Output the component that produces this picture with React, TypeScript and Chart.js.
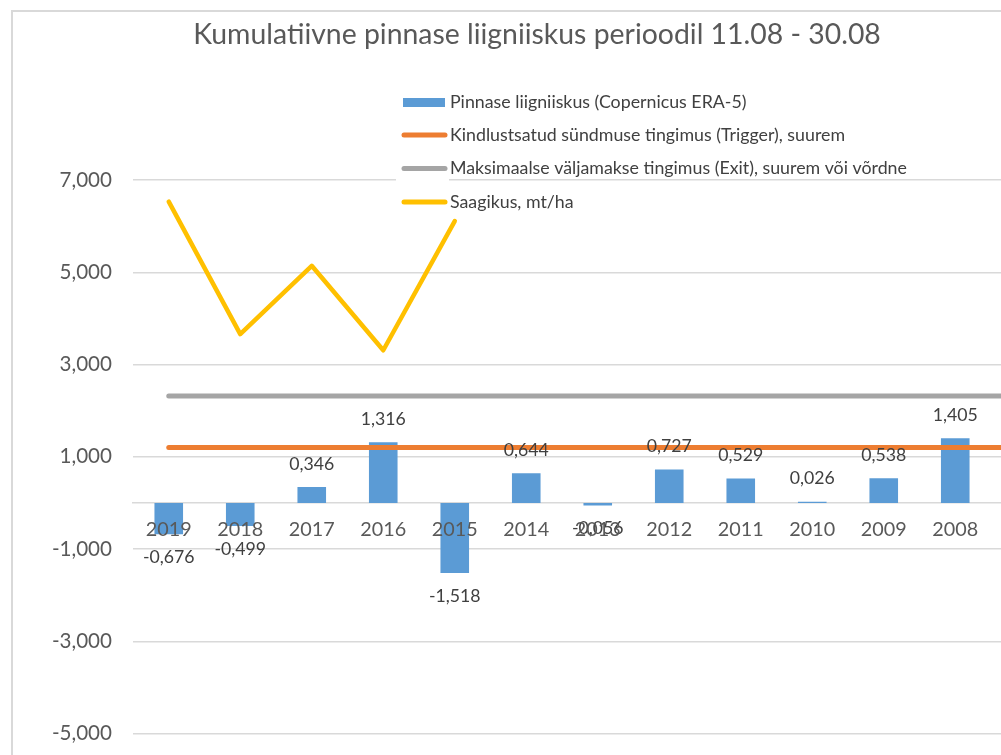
import React, { useEffect, useRef } from "react";
import { Chart, registerables } from "chart.js";

Chart.register(...registerables);

// ---- data ----
const categories = ["2019", "2018", "2017", "2016", "2015", "2014", "2013", "2012", "2011", "2010", "2009", "2008", ""];
const moisture = [-0.676, -0.499, 0.346, 1.316, -1.518, 0.644, -0.056, 0.727, 0.529, 0.026, 0.538, 1.405, null];
const triggerLevel = [1.2, 1.2, 1.2, 1.2, 1.2, 1.2, 1.2, 1.2, 1.2, 1.2, 1.2, 1.2, 1.2];
const exitLevel = [2.32, 2.32, 2.32, 2.32, 2.32, 2.32, 2.32, 2.32, 2.32, 2.32, 2.32, 2.32, 2.32];
const yieldValues = [6.53, 3.66, 5.14, 3.31, 6.11, null, null, null, null, null, null, null, null];
const yTicks = [-5, -3, -1, 1, 3, 5, 7];

const chartTitle = "Kumulatiivne pinnase liigniiskus perioodil 11.08 - 30.08";
const seriesNames = [
  "Pinnase liigniiskus (Copernicus ERA-5)",
  "Kindlustsatud sündmuse tingimus (Trigger), suurem",
  "Maksimaalse väljamakse tingimus (Exit), suurem või võrdne",
  "Saagikus, mt/ha",
];
const seriesColors = ["#5B9BD5", "#ED7D31", "#A5A5A5", "#FFC000"];

const FONT = "Lato, 'Open Sans', sans-serif";
const fmt = (v: number) => v.toFixed(3).replace(".", ",");

function measure(text: string, size: number): number {
  const c = document.createElement("canvas").getContext("2d")!;
  c.font = `${size}px ${FONT}`;
  return c.measureText(text).width;
}
// font size giving a text a target pixel width
function fitSize(text: string, target: number): number {
  return Math.round((1000 * target) / measure(text, 100)) / 10;
}

export default function App() {
  const ref = useRef<HTMLCanvasElement | null>(null);
  useEffect(() => {
    document.body.style.margin = "0";
    const titleSize = fitSize(chartTitle, 687);
    const legendSize = fitSize(seriesNames[0], 297);
    const yearSize = fitSize("2019", 46);
    const tickSize = fitSize("-3,000", 60);
    const valueSize = fitSize("1,316", 45);
    const tickPad = 21;
    const widest = Math.max(...yTicks.map((v) => measure(fmt(v), tickSize)));
    const padLeft = 133 - 2 * tickPad - widest;

    const decorPlugin = {
      id: "decor",
      beforeDraw(chart: any) {
        const ctx = chart.ctx;
        ctx.save();
        ctx.fillStyle = "#ffffff";
        ctx.fillRect(0, 0, chart.width, chart.height);
        ctx.strokeStyle = "#d9d9d9";
        ctx.lineWidth = 2;
        ctx.strokeRect(12, 11, chart.width + 50, chart.height + 50);
        ctx.restore();
      },
      afterDatasetsDraw(chart: any) {
        const ctx = chart.ctx;
        const meta = chart.getDatasetMeta(0);
        ctx.save();
        ctx.font = `${valueSize}px ${FONT}`;
        ctx.fillStyle = "#404040";
        ctx.textAlign = "center";
        ctx.textBaseline = "middle";
        meta.data.forEach((el: any, i: number) => {
          const v = moisture[i];
          if (v === null || v === undefined) return;
          const y = v >= 0 ? el.y - 23 : el.y + 23;
          ctx.fillText(fmt(v), el.x, y);
        });
        ctx.restore();
      },
      afterDraw(chart: any) {
        const ctx = chart.ctx;
        ctx.save();
        ctx.font = `${titleSize}px ${FONT}`;
        ctx.fillStyle = "#595959";
        ctx.textAlign = "center";
        ctx.textBaseline = "middle";
        ctx.fillText(chartTitle, 537, 35);
        const rows = [102.5, 135, 168.5, 202];
        ctx.fillStyle = "#ffffff";
        ctx.fillRect(396, 172, 53, 16);
        ctx.font = `${legendSize}px ${FONT}`;
        ctx.textAlign = "left";
        rows.forEach((y, i) => {
          if (i === 0) {
            ctx.fillStyle = seriesColors[0];
            ctx.fillRect(403, y - 4.5, 42, 9);
          } else {
            ctx.strokeStyle = seriesColors[i];
            ctx.lineWidth = 5;
            ctx.lineCap = "round";
            ctx.beginPath();
            ctx.moveTo(404, y);
            ctx.lineTo(445, y);
            ctx.stroke();
          }
          ctx.fillStyle = "#404040";
          ctx.fillText(seriesNames[i], 450, y);
        });
        ctx.restore();
      },
    };

    const canvas = ref.current!;
    const chart = new Chart(canvas, {
      type: "bar",
      data: {
        labels: categories,
        datasets: [
          {
            type: "bar",
            label: seriesNames[0],
            data: moisture,
            backgroundColor: seriesColors[0],
            barPercentage: 0.4,
            categoryPercentage: 1.0,
            order: 4,
          },
          {
            type: "line",
            label: seriesNames[1],
            data: triggerLevel,
            borderColor: seriesColors[1],
            borderWidth: 5,
            pointRadius: 0,
            borderCapStyle: "round",
            fill: false,
            order: 3,
          },
          {
            type: "line",
            label: seriesNames[2],
            data: exitLevel,
            borderColor: seriesColors[2],
            borderWidth: 5,
            pointRadius: 0,
            borderCapStyle: "round",
            fill: false,
            order: 2,
          },
          {
            type: "line",
            label: seriesNames[3],
            data: yieldValues,
            borderColor: seriesColors[3],
            borderWidth: 4.5,
            pointRadius: 0,
            borderCapStyle: "round",
            borderJoinStyle: "round",
            fill: false,
            spanGaps: false,
            order: 1,
          },
        ] as any,
      },
      options: {
        responsive: false,
        animation: false,
        devicePixelRatio: 1,
        layout: { padding: { top: 180, bottom: 0, left: padLeft, right: 12.5 } },
        plugins: {
          legend: { display: false },
          title: { display: false },
          tooltip: { enabled: false },
        },
        scales: {
          x: {
            type: "category",
            position: { y: 0 } as any,
            offset: true,
            grid: { display: true, color: "rgba(0,0,0,0)", drawTicks: false },
            border: { display: true, color: "#d9d9d9", width: 1.5 },
            ticks: {
              color: "#595959",
              font: { family: FONT, size: yearSize },
              padding: 15,
              maxRotation: 0,
              autoSkip: false,
              z: 1,
            } as any,
          },
          y: {
            type: "linear",
            min: -5,
            max: 7,
            afterBuildTicks: (scale: any) => {
              scale.ticks = yTicks.map((v) => ({ value: v }));
            },
            grid: { color: "#d9d9d9", lineWidth: 1.5, drawTicks: false },
            border: { display: false },
            ticks: {
              color: "#595959",
              font: { family: FONT, size: tickSize },
              padding: tickPad,
              callback: (v: any) => fmt(Number(v)),
            },
          },
        },
      },
      plugins: [decorPlugin],
    });
    return () => chart.destroy();
  }, []);

  return (
    <div
      style={{
        position: "fixed",
        left: 0,
        top: 0,
        width: 1001,
        height: 755,
        overflow: "hidden",
        background: "#ffffff",
      }}
    >
      <canvas ref={ref} width={1075} height={767} style={{ display: "block" }} />
    </div>
  );
}
